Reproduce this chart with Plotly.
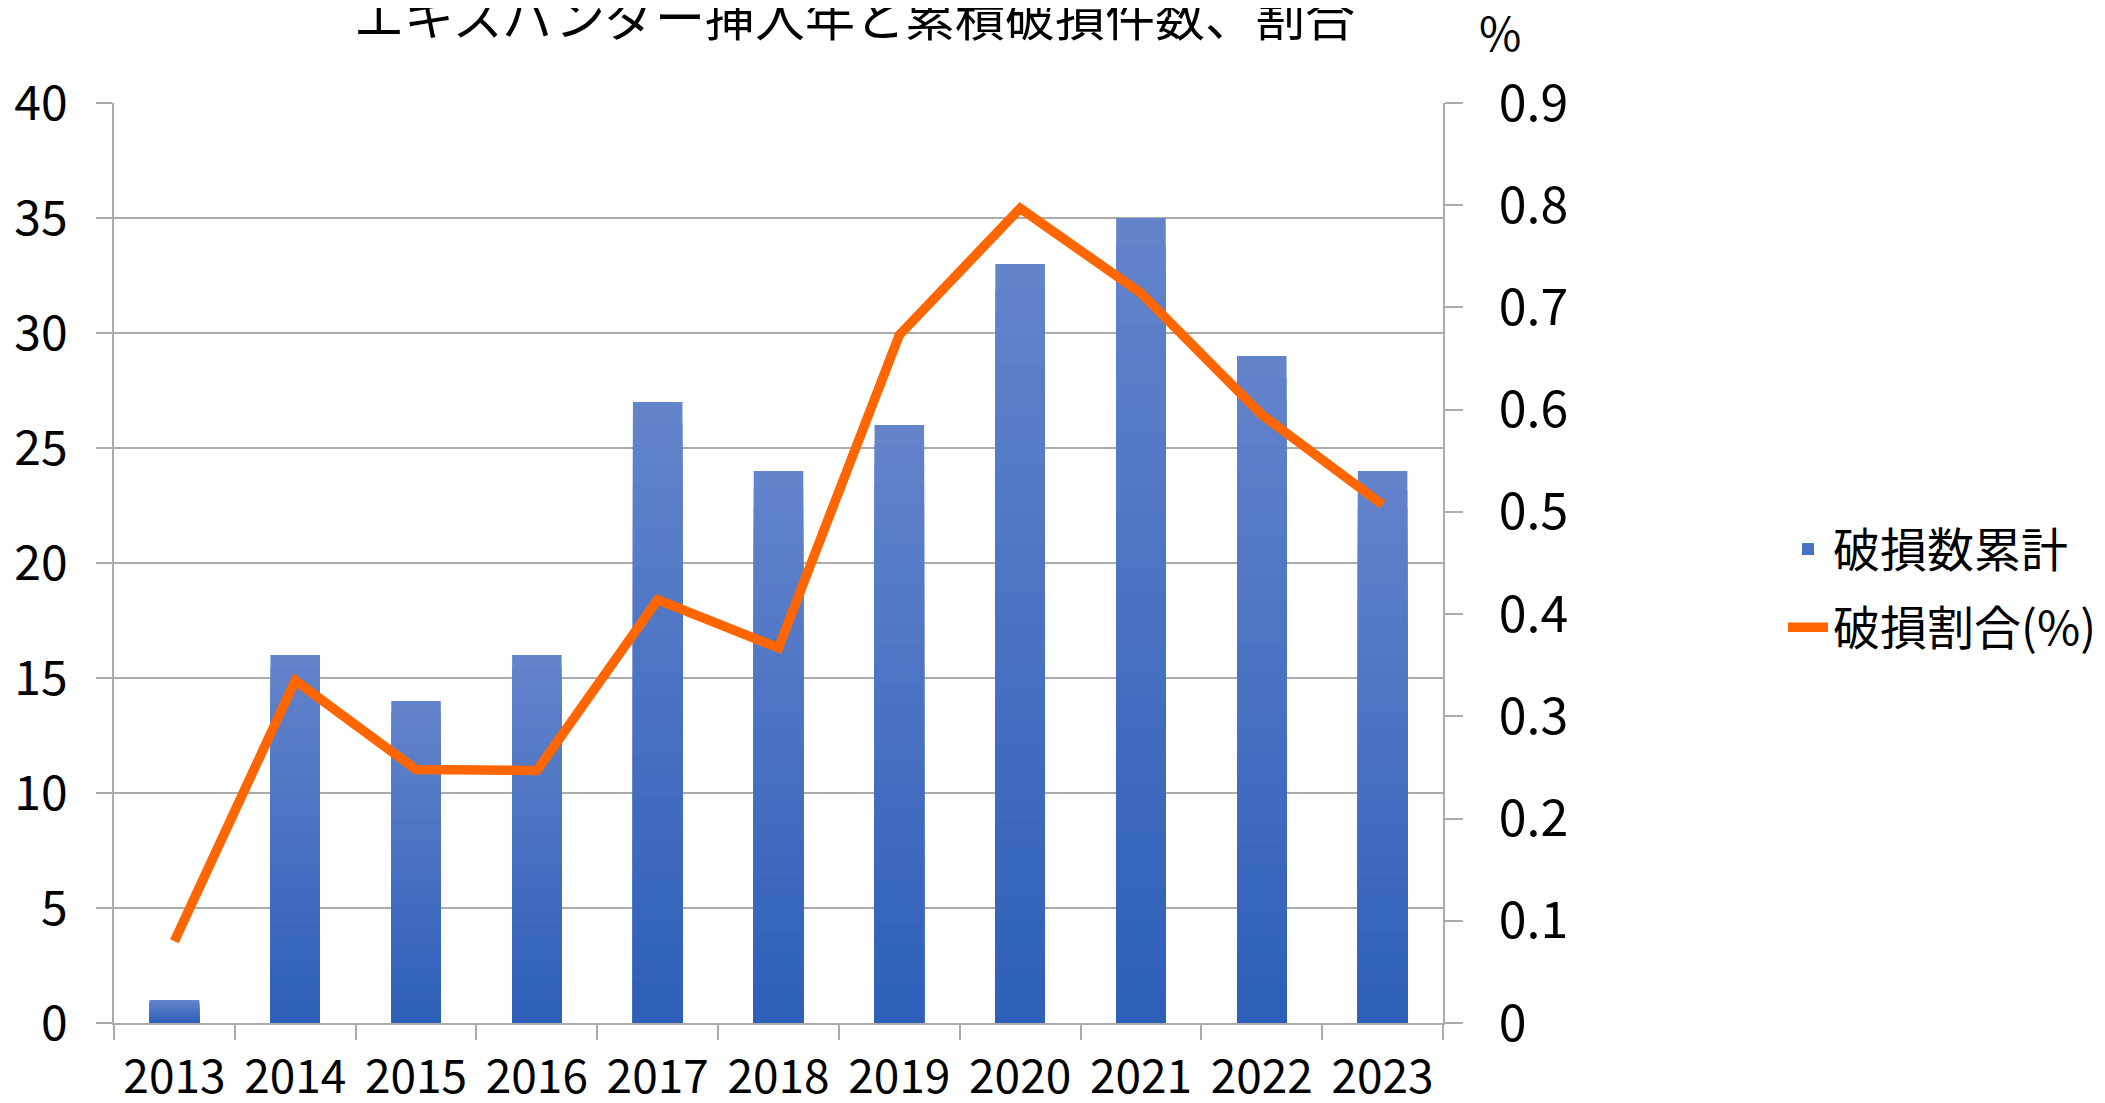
import plotly.graph_objects as go

# ---- data ----
years = ["2013", "2014", "2015", "2016", "2017", "2018", "2019", "2020", "2021", "2022", "2023"]
damage_count = [1, 16, 14, 16, 27, 24, 26, 33, 35, 29, 24]          # 破損数累計 (left axis)
damage_rate = [0.080, 0.335, 0.248, 0.247, 0.414, 0.367, 0.673, 0.797, 0.714, 0.595, 0.507]  # 破損割合(%) (right axis)
left_ticks = [0, 5, 10, 15, 20, 25, 30, 35, 40]
right_ticks = [0, 0.1, 0.2, 0.3, 0.4, 0.5, 0.6, 0.7, 0.8, 0.9]

title_text = "エキスパンダー挿入年と累積破損件数、割合"
bar_name = "破損数累計"
line_name = "破損割合(%)"

# ---- style ----
W, H = 2105, 1103
OFF = 8  # page body margin
ML, MR, MT, MB = 114 - OFF, 662 + OFF, 103 - OFF, 80 + OFF
PW, PH = W - ML - MR, H - MT - MB
JP = "Noto Sans CJK JP"
GRID = "#ababab"
TOP_RGB = (99, 131, 203)
BOT_RGB = (46, 96, 185)
N_LAYERS = 30

fig = go.Figure()

# gradient bars: overlaid bar layers (largest/lightest first)
for k in range(N_LAYERS, 0, -1):
    t = (k - 1) / (N_LAYERS - 1)
    c = tuple(round(BOT_RGB[i] + (TOP_RGB[i] - BOT_RGB[i]) * t) for i in range(3))
    fig.add_trace(go.Bar(
        x=years,
        y=[v * k / N_LAYERS for v in damage_count],
        marker=dict(color="rgb(%d,%d,%d)" % c, line=dict(width=0)),
        name=bar_name,
        legendgroup="bar",
        legendrank=1,
        showlegend=(k == N_LAYERS // 2),
        hoverinfo="skip" if k != N_LAYERS else None,
        yaxis="y",
    ))

fig.add_trace(go.Scatter(
    x=years, y=damage_rate, mode="lines", name=line_name,
    line=dict(color="#FF6600", width=9.5),
    legendgroup="line", legendrank=2,
    yaxis="y2",
))

fig.update_layout(
    width=W, height=H,
    template="none",
    paper_bgcolor="white", plot_bgcolor="white",
    margin=dict(l=ML, r=MR, t=MT, b=MB, autoexpand=False),
    barmode="overlay",
    bargap=0.59,
    font=dict(family=JP, size=46, color="black"),
    xaxis=dict(
        type="category",
        showgrid=False,
        showline=True, linecolor=GRID, linewidth=2,
        ticks="outside", tickson="boundaries", ticklen=15, tickcolor=GRID, tickwidth=1.5,
        tickangle=0,
        tickfont=dict(family=JP, size=46),
        ticklabelstandoff=13,
        automargin=False,
        zeroline=False,
    ),
    yaxis=dict(
        range=[0, 40],
        tickvals=left_ticks,
        showgrid=True, gridcolor=GRID, gridwidth=1.5,
        showline=True, linecolor=GRID, linewidth=1.5,
        ticks="outside", ticklen=16, tickcolor=GRID, tickwidth=1.5,
        tickfont=dict(family=JP, size=48),
        ticklabelstandoff=19,
        zeroline=False,
        automargin=False,
    ),
    yaxis2=dict(
        range=[0, 0.9],
        tickvals=right_ticks,
        overlaying="y", side="right",
        showgrid=False,
        showline=True, linecolor=GRID, linewidth=1.5,
        ticks="outside", ticklen=18, tickcolor=GRID, tickwidth=1.5,
        tickfont=dict(family=JP, size=50),
        ticklabelstandoff=26,
        zeroline=False,
        automargin=False,
    ),
    legend=dict(
        xref="container", yref="container",
        x=(1783 - OFF) / W, y=1 - (512 - OFF) / H, xanchor="left", yanchor="top",
        font=dict(family=JP, size=47),
        traceorder="grouped", tracegroupgap=14,
        bgcolor="rgba(0,0,0,0)",
        itemwidth=40,
    ),
    showlegend=True,
    annotations=[
        dict(text=title_text, xref="paper", yref="paper",
             x=(854 - 114) / PW, y=1 + (103 - 14) / PH,
             xanchor="center", yanchor="middle", showarrow=False,
             font=dict(family=JP, size=50, color="black")),
        dict(text="%", xref="paper", yref="paper",
             x=(1500 - 114) / PW, y=1 + (103 - 31) / PH,
             xanchor="center", yanchor="middle", showarrow=False,
             font=dict(family=JP, size=46, color="black")),
    ],
)

fig.write_html("out.html")
